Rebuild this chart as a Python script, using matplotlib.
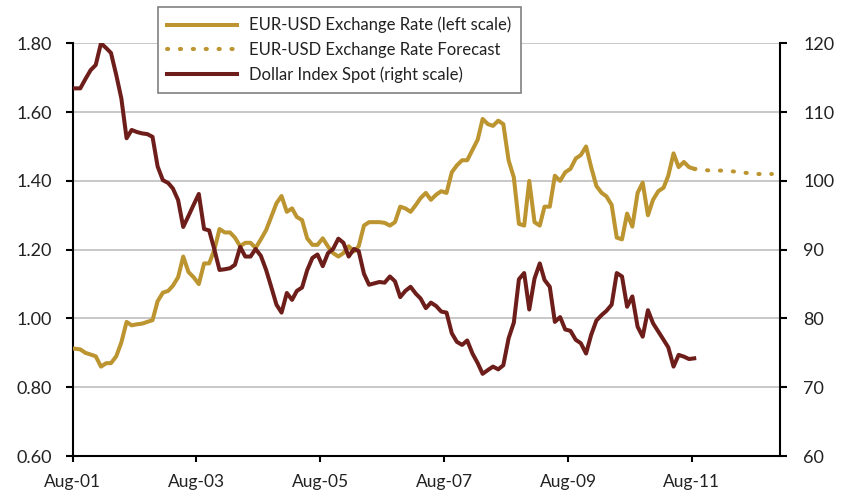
import matplotlib
matplotlib.use("Agg")
import matplotlib.pyplot as plt
import matplotlib.ticker as mticker
import pandas as pd

plt.rcParams['font.family'] = ['Lato', 'DejaVu Sans']

# Monthly observations, Jul-2001 .. Aug-2011 (plotted at mid-month)
months = pd.period_range("2001-07", "2011-08", freq="M")

eur_usd = [
    0.913, 0.912, 0.910, 0.900, 0.895, 0.890, 0.860, 0.870, 0.870, 0.890, 0.930, 0.990,   # Jul01-Jun02
    0.980, 0.983, 0.985, 0.990, 0.995, 1.050, 1.075, 1.080, 1.095, 1.120, 1.180, 1.135,   # Jul02-Jun03
    1.120, 1.100, 1.160, 1.160, 1.200, 1.260, 1.250, 1.250, 1.235, 1.210, 1.220, 1.220,   # Jul03-Jun04
    1.205, 1.230, 1.257, 1.295, 1.335, 1.356, 1.310, 1.320, 1.295, 1.286, 1.233, 1.214,   # Jul04-Jun05
    1.214, 1.233, 1.209, 1.190, 1.180, 1.190, 1.210, 1.195, 1.210, 1.270, 1.280, 1.280,   # Jul05-Jun06
    1.280, 1.278, 1.270, 1.280, 1.325, 1.320, 1.310, 1.330, 1.350, 1.365, 1.345, 1.360,   # Jul06-Jun07
    1.370, 1.365, 1.425, 1.445, 1.460, 1.460, 1.490, 1.520, 1.580, 1.565, 1.560, 1.575,   # Jul07-Jun08
    1.565, 1.460, 1.410, 1.275, 1.270, 1.400, 1.280, 1.270, 1.325, 1.325, 1.415, 1.400,   # Jul08-Jun09
    1.425, 1.435, 1.465, 1.475, 1.500, 1.440, 1.385, 1.365, 1.355, 1.330, 1.235, 1.230,   # Jul09-Jun10
    1.305, 1.267, 1.365, 1.395, 1.300, 1.345, 1.370, 1.380, 1.415, 1.480, 1.440, 1.455,   # Jul10-Jun11
    1.440, 1.435,                                                                         # Jul11-Aug11
]

dollar_index = [
    113.45, 113.45, 113.45, 114.8, 116.1, 116.85, 120.0, 119.3, 118.6, 115.4, 112.0, 106.2,  # Jul01-Jun02
    107.4, 107.1, 106.9, 106.8, 106.4, 102.1, 100.1, 99.7, 98.9, 97.2, 93.3, 94.9,           # Jul02-Jun03
    96.5, 98.1, 93.0, 92.8, 90.0, 87.05, 87.15, 87.3, 87.8, 90.4, 89.0, 89.0,                # Jul03-Jun04
    90.1, 89.1, 87.05, 84.6, 82.0, 80.85, 83.7, 82.7, 84.0, 84.5, 87.0, 88.8,                # Jul04-Jun05
    89.3, 87.6, 89.5, 90.1, 91.6, 91.0, 89.0, 90.1, 89.8, 86.5, 84.9, 85.1,                  # Jul05-Jun06
    85.3, 85.2, 86.1, 85.4, 83.1, 84.0, 84.6, 83.6, 82.9, 81.5, 82.3, 81.8,                  # Jul06-Jun07
    81.0, 80.85, 77.85, 76.6, 76.15, 76.8, 74.9, 73.5, 71.95, 72.5, 73.0, 72.6,              # Jul07-Jun08
    73.2, 77.1, 79.4, 85.7, 86.6, 81.3, 85.8, 88.0, 85.6, 84.6, 79.5, 80.2,                  # Jul08-Jun09
    78.4, 78.2, 76.9, 76.4, 74.9, 77.6, 79.7, 80.5, 81.1, 82.0, 86.6, 86.1,                  # Jul09-Jun10
    81.7, 83.2, 78.8, 77.35, 81.2, 79.3, 78.1, 76.9, 75.8, 73.0, 74.7, 74.45,                # Jul10-Jun11
    74.1, 74.2,                                                                              # Jul11-Aug11
]

forecast_months = pd.PeriodIndex(["2011-08", "2011-11", "2012-02", "2012-05", "2012-08", "2012-11"], freq="M")
eur_usd_forecast = [1.435, 1.430, 1.430, 1.425, 1.420, 1.420]

tick_labels = ["Aug-01", "Aug-03", "Aug-05", "Aug-07", "Aug-09", "Aug-11"]
tick_dates = pd.to_datetime(["2001-08-01", "2003-08-01", "2005-08-01", "2007-08-01", "2009-08-01", "2011-08-01"])

label_eur = "EUR-USD Exchange Rate (left scale)"
label_fc = "EUR-USD Exchange Rate Forecast"
label_dxy = "Dollar Index Spot (right scale)"

GOLD = "#BC9430"
DARK = "#6E1E1A"
GRID = "#C4C4C4"
TXT = "#222222"

def mid(p):
    return p.to_timestamp(how="start") + pd.Timedelta(days=14)

x_main = [mid(p) for p in months]
x_fc = [mid(p) for p in forecast_months]

fig = plt.figure(figsize=(8.44, 4.96), dpi=100)
ax = fig.add_axes([0.0861, 0.0806, 0.924 - 0.0861, 0.9127 - 0.0806])
ax2 = ax.twinx()

l1, = ax.plot(x_main, eur_usd, color=GOLD, lw=2.9, solid_joinstyle="round", label=label_eur, zorder=3)
l2, = ax.plot(x_fc, eur_usd_forecast, color=GOLD, lw=2.9, linestyle=(0, (0.3, 2.9)),
              dash_capstyle="round", label=label_fc, zorder=3)
l3, = ax2.plot(x_main, dollar_index, color=DARK, lw=2.9, solid_joinstyle="round", label=label_dxy, zorder=3)

ax.set_xlim(pd.Timestamp("2001-08-01"), pd.Timestamp("2013-01-01"))
ax.set_ylim(0.6, 1.8)
ax2.set_ylim(60, 120)
ax.set_yticks([0.6, 0.8, 1.0, 1.2, 1.4, 1.6, 1.8])
ax.yaxis.set_major_formatter(mticker.FormatStrFormatter("%.2f"))
ax2.set_yticks([60, 70, 80, 90, 100, 110, 120])
ax.set_xticks(tick_dates)
ax.set_xticklabels(tick_labels)

ax.grid(axis="y", color=GRID, lw=1.3, zorder=0)
ax.set_axisbelow(True)

for a in (ax, ax2):
    a.spines["top"].set_visible(False)
    for s in ("left", "right", "bottom"):
        a.spines[s].set_color("black")
        a.spines[s].set_linewidth(1.5)
ax.spines["right"].set_visible(False)
ax2.spines["left"].set_visible(False)
ax2.spines["bottom"].set_visible(False)

ax.tick_params(axis="y", direction="out", length=5, width=1.5, pad=10, labelsize=13, labelcolor=TXT)
ax.tick_params(axis="x", direction="out", length=4, width=1.5, pad=9, labelsize=12.5, labelcolor=TXT)
ax2.tick_params(axis="y", direction="out", length=5, width=1.5, pad=12, labelsize=13, labelcolor=TXT)

leg = ax2.legend(handles=[l1, l2, l3], loc="upper left",
                 bbox_to_anchor=(157.7 / 844, 1 - 7.3 / 496), bbox_transform=fig.transFigure,
                 borderaxespad=0, fancybox=False, framealpha=1, edgecolor="#808080",
                 fontsize=12, handlelength=4.2, handletextpad=0.7, borderpad=0.57,
                 labelspacing=0.52)
leg.get_frame().set_linewidth(1.2)
for t in leg.get_texts():
    t.set_color(TXT)

fig.savefig("out.png", dpi=100)
